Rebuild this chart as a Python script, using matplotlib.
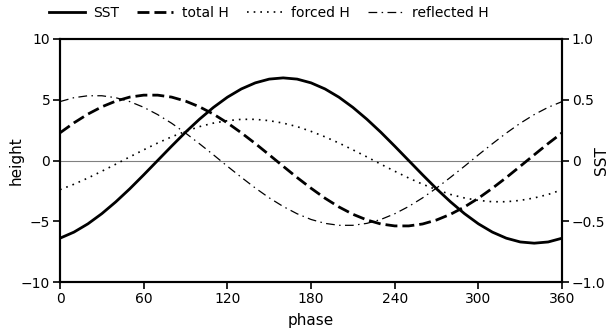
import matplotlib
matplotlib.use("Agg")
import matplotlib.pyplot as plt

# phase (degrees) sampled every 10 degrees
phase = list(range(0, 361, 10))

# SST anomaly (right axis, SST units)
sst = [-0.639, -0.589, -0.521, -0.437, -0.340, -0.233, -0.118, 0.000, 0.118, 0.233,
       0.340, 0.437, 0.521, 0.589, 0.639, 0.670, 0.680, 0.670, 0.639, 0.589,
       0.521, 0.437, 0.340, 0.233, 0.118, 0.000, -0.118, -0.233, -0.340, -0.437,
       -0.521, -0.589, -0.639, -0.670, -0.680, -0.670, -0.639]

# thermocline height components (left axis)
total_h = [2.28, 3.10, 3.82, 4.42, 4.89, 5.22, 5.38, 5.38, 5.22, 4.89,
           4.42, 3.82, 3.10, 2.28, 1.40, 0.47, -0.47, -1.40, -2.28, -3.10,
           -3.82, -4.42, -4.89, -5.22, -5.38, -5.38, -5.22, -4.89, -4.42, -3.82,
           -3.10, -2.28, -1.40, -0.47, 0.47, 1.40, 2.28]

forced_h = [-2.40, -1.95, -1.44, -0.88, -0.30, 0.30, 0.88, 1.44, 1.95, 2.40,
            2.79, 3.08, 3.28, 3.39, 3.39, 3.28, 3.08, 2.79, 2.40, 1.95,
            1.44, 0.88, 0.30, -0.30, -0.88, -1.44, -1.95, -2.40, -2.79, -3.08,
            -3.28, -3.39, -3.39, -3.28, -3.08, -2.79, -2.40]

reflected_h = [4.85, 5.17, 5.33, 5.33, 5.17, 4.85, 4.38, 3.78, 3.07, 2.26,
               1.38, 0.47, -0.47, -1.38, -2.26, -3.07, -3.78, -4.38, -4.85, -5.17,
               -5.33, -5.33, -5.17, -4.85, -4.38, -3.78, -3.07, -2.26, -1.38, -0.47,
               0.47, 1.38, 2.26, 3.07, 3.78, 4.38, 4.85]

x_ticks = [0, 60, 120, 180, 240, 300, 360]
h_ticks = [-10, -5, 0, 5, 10]
sst_ticks = [-1.0, -0.5, 0.0, 0.5, 1.0]
sst_labels = ["\u22121.0", "\u22120.5", "0", "0.5", "1.0"]
h_labels = ["\u221210", "\u22125", "0", "5", "10"]

plt.rcParams["font.family"] = ["DejaVu Sans"]
plt.rcParams["font.size"] = 10

fig = plt.figure(figsize=(6.11, 3.35), dpi=100)
ax = fig.add_axes([0.0982, 0.158, 0.8218, 0.7256])
ax2 = ax.twinx()

ax.axhline(0, color="#808080", lw=0.8, zorder=1)

l_tot, = ax.plot(phase, total_h, color="black", lw=2.0, dashes=(4.3, 1.8),
                 label="total H", zorder=3)
l_for, = ax.plot(phase, forced_h, color="black", lw=1.2, dashes=(1, 3),
                 label="forced H", zorder=3)
l_ref, = ax.plot(phase, reflected_h, color="black", lw=0.9, dashes=(7, 3.5, 1.2, 3.5),
                 label="reflected H", zorder=3)
l_sst, = ax2.plot(phase, sst, color="black", lw=2.0, label="SST", zorder=3)

ax.set_xlim(0, 360)
ax.set_ylim(-10, 10)
ax2.set_ylim(-1.0, 1.0)

ax.set_xticks(x_ticks)
ax.set_yticks(h_ticks)
ax.set_yticklabels(h_labels)
ax2.set_yticks(sst_ticks)
ax2.set_yticklabels(sst_labels)

for a in (ax, ax2):
    for s in a.spines.values():
        s.set_linewidth(1.5)
    a.tick_params(direction="out", length=5, width=1.2, labelsize=10, pad=2)

ax.set_xlabel("phase", fontsize=11, labelpad=5)
ax.set_ylabel("height", fontsize=11)
ax.yaxis.set_label_coords(-0.072, 0.5)
ax2.set_ylabel("SST", fontsize=11)
ax2.yaxis.set_label_coords(1.063, 0.5)

fig.legend(handles=[l_sst, l_tot, l_for, l_ref], loc="upper center",
           bbox_to_anchor=(0.44, 1.02), ncol=4, frameon=False, fontsize=10,
           handlelength=2.6, handletextpad=0.6, columnspacing=1.3)

fig.savefig("out.png", dpi=100)
